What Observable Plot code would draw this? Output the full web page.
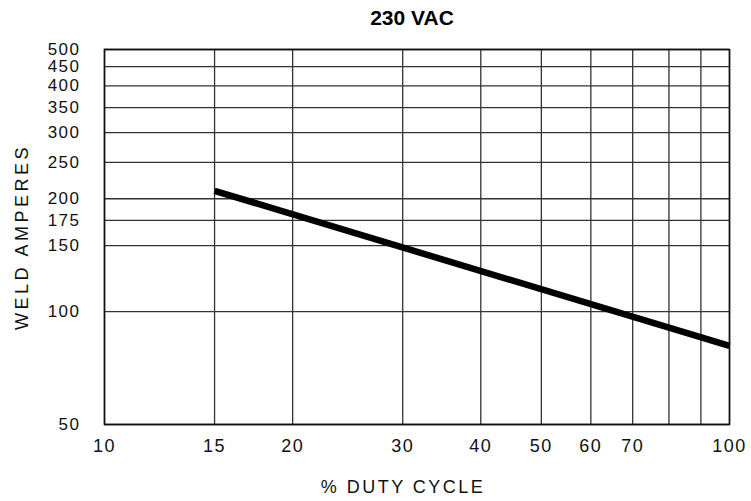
<!DOCTYPE html>
<html><head><meta charset="utf-8">
<script src="https://cdn.jsdelivr.net/npm/d3@7"></script>
<script src="https://cdn.jsdelivr.net/npm/@observablehq/plot@0.6"></script>
<style>body{margin:0;background:#fff}</style>
</head><body><div id="chart"></div>
<script>
const title = "230 VAC";
const xLabel = "% DUTY CYCLE";
const yLabel = "WELD AMPERES";
const xTicks = [10, 15, 20, 30, 40, 50, 60, 70, 80, 90, 100];
const yTicks = [50, 100, 150, 175, 200, 250, 300, 350, 400, 450, 500];
const dutyCycle = [15, 100];
const amperes = [210, 81];

const data = dutyCycle.map((d, i) => ({x: d, y: amperes[i]}));
const fmt = d => String(d);

const chart = Plot.plot({
  width: 751,
  height: 501,
  marginTop: 49,
  marginLeft: 104,
  marginRight: 22,
  marginBottom: 77,
  style: {fontFamily: "'Liberation Sans', Arial, sans-serif", fontSize: "18px", background: "white", color: "#111"},
  x: {type: "log", domain: [10, 100], label: null},
  y: {type: "log", domain: [50, 500], label: null},
  marks: [
    Plot.gridX(xTicks, {stroke: "#333", strokeOpacity: 1, strokeWidth: 1.3}),
    Plot.gridY(yTicks, {stroke: "#333", strokeOpacity: 1, strokeWidth: 1.3}),
    Plot.frame({stroke: "#111", strokeWidth: 1.6}),
    Plot.axisX(xTicks, {tickSize: 0, tickPadding: 15, tickFormat: fmt, label: null, fontSize: 18}),
    Plot.axisY(yTicks, {tickSize: 0, tickPadding: 24, tickFormat: fmt, label: null, fontSize: 17}),
    Plot.line(data, {x: "x", y: "y", stroke: "black", strokeWidth: 6.5, strokeLinecap: "butt"}),
    Plot.text([title], {frameAnchor: "top", lineAnchor: "middle", dy: -31, dx: -5, fontWeight: "bold", fontSize: 21, fill: "black"}),
    Plot.text([xLabel], {frameAnchor: "bottom", lineAnchor: "middle", dy: 63, dx: -14, fontSize: 18, fill: "#111"}),
    Plot.text([yLabel], {frameAnchor: "left", textAnchor: "middle", lineAnchor: "middle", dx: -82, rotate: -90, fontSize: 18, fill: "#111"})
  ]
});

d3.select(chart).selectAll("text").each(function() {
  const t = this.textContent;
  if (t === yLabel) d3.select(this).attr("letter-spacing", "3.5px");
  else if (t === xLabel) d3.select(this).attr("letter-spacing", "2.5px");
  else if (/^\d+$/.test(t)) d3.select(this).attr("letter-spacing", "1.5px");
});

document.getElementById("chart").appendChild(chart);
</script>
</body></html>
